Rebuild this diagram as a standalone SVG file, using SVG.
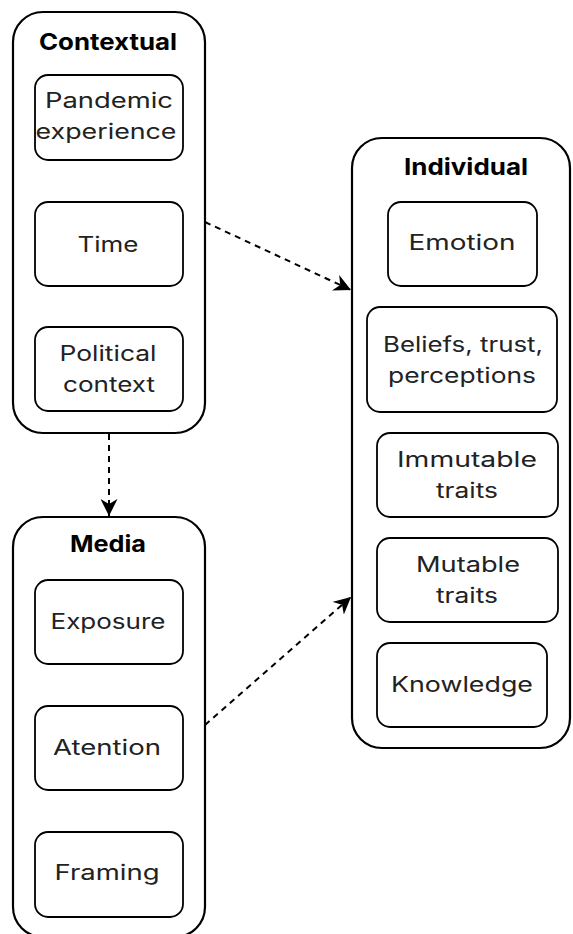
<svg xmlns="http://www.w3.org/2000/svg" width="573" height="934" viewBox="0 0 573 934">
<style>
.outer{fill:#fff;stroke:#000;stroke-width:2.2}
.inner{fill:#fff;stroke:#000;stroke-width:1.8}
.t{font-family:Inter,"Open Sans","Liberation Sans",sans-serif;font-size:21px;fill:#222;text-anchor:middle}
.h{font-family:Inter,"Open Sans","Liberation Sans",sans-serif;font-size:23px;font-weight:bold;fill:#000;text-anchor:middle}
.c{fill:none;stroke:#000;stroke-width:2;stroke-dasharray:6 5}
</style>
<defs>
<marker id="ah" viewBox="0 0 10 10" refX="10" refY="5" markerWidth="17" markerHeight="17" markerUnits="userSpaceOnUse" orient="auto">
<path d="M0,0 L10,5 L0,10 L3,5 z" fill="#000"/>
</marker>
</defs>
<rect width="573" height="934" fill="#fff"/>
<g id="contextual">
<rect class="outer" x="13" y="12" width="192" height="421" rx="30"/>
<text class="h" x="108" y="50" textLength="138" lengthAdjust="spacingAndGlyphs">Contextual</text>
</g>
<g id="pandemic">
<rect class="inner" x="35" y="75" width="148" height="85" rx="13"/>
<text class="t" x="109" y="108" textLength="128" lengthAdjust="spacingAndGlyphs">Pandemic</text>
<text class="t" x="106" y="139" textLength="141" lengthAdjust="spacingAndGlyphs">experience</text>
</g>
<g id="time">
<rect class="inner" x="35" y="202" width="148" height="84" rx="13"/>
<text class="t" x="108" y="252" textLength="61" lengthAdjust="spacingAndGlyphs">Time</text>
</g>
<g id="political">
<rect class="inner" x="35" y="327" width="148" height="84" rx="13"/>
<text class="t" x="108" y="361" textLength="97" lengthAdjust="spacingAndGlyphs">Political</text>
<text class="t" x="109" y="392" textLength="92" lengthAdjust="spacingAndGlyphs">context</text>
</g>
<g id="media">
<rect class="outer" x="13" y="517" width="192" height="420" rx="30"/>
<text class="h" x="108" y="552" textLength="76" lengthAdjust="spacingAndGlyphs">Media</text>
</g>
<g id="exposure">
<rect class="inner" x="35" y="580" width="148" height="84" rx="13"/>
<text class="t" x="108" y="629" textLength="115" lengthAdjust="spacingAndGlyphs">Exposure</text>
</g>
<g id="atention">
<rect class="inner" x="35" y="706" width="148" height="84" rx="13"/>
<text class="t" x="107" y="755" textLength="108" lengthAdjust="spacingAndGlyphs">Atention</text>
</g>
<g id="framing">
<rect class="inner" x="35" y="832" width="148" height="85" rx="13"/>
<text class="t" x="107" y="880" textLength="105" lengthAdjust="spacingAndGlyphs">Framing</text>
</g>
<g id="individual">
<rect class="outer" x="352" y="138" width="218" height="610" rx="30"/>
<text class="h" x="466" y="175" textLength="124" lengthAdjust="spacingAndGlyphs">Individual</text>
</g>
<g id="emotion">
<rect class="inner" x="388" y="202" width="149" height="84" rx="13"/>
<text class="t" x="462" y="250" textLength="107" lengthAdjust="spacingAndGlyphs">Emotion</text>
</g>
<g id="beliefs">
<rect class="inner" x="367" y="307" width="190" height="105" rx="13"/>
<text class="t" x="463" y="352" textLength="160" lengthAdjust="spacingAndGlyphs">Beliefs, trust,</text>
<text class="t" x="462" y="383" textLength="148" lengthAdjust="spacingAndGlyphs">perceptions</text>
</g>
<g id="immutable">
<rect class="inner" x="377" y="433" width="181" height="84" rx="13"/>
<text class="t" x="467" y="467" textLength="140" lengthAdjust="spacingAndGlyphs">Immutable</text>
<text class="t" x="467" y="498" textLength="62" lengthAdjust="spacingAndGlyphs">traits</text>
</g>
<g id="mutable">
<rect class="inner" x="377" y="538" width="181" height="84" rx="13"/>
<text class="t" x="468" y="572" textLength="104" lengthAdjust="spacingAndGlyphs">Mutable</text>
<text class="t" x="467" y="603" textLength="62" lengthAdjust="spacingAndGlyphs">traits</text>
</g>
<g id="knowledge">
<rect class="inner" x="377" y="643" width="170" height="84" rx="13"/>
<text class="t" x="462" y="692" textLength="142" lengthAdjust="spacingAndGlyphs">Knowledge</text>
</g>
<g id="connectors">
<path class="c" d="M109,434 L109,516" marker-end="url(#ah)"/>
<path class="c" d="M205,222 L351,290" marker-end="url(#ah)"/>
<path class="c" d="M205,725 L351,597" marker-end="url(#ah)"/>
</g>
</svg>
